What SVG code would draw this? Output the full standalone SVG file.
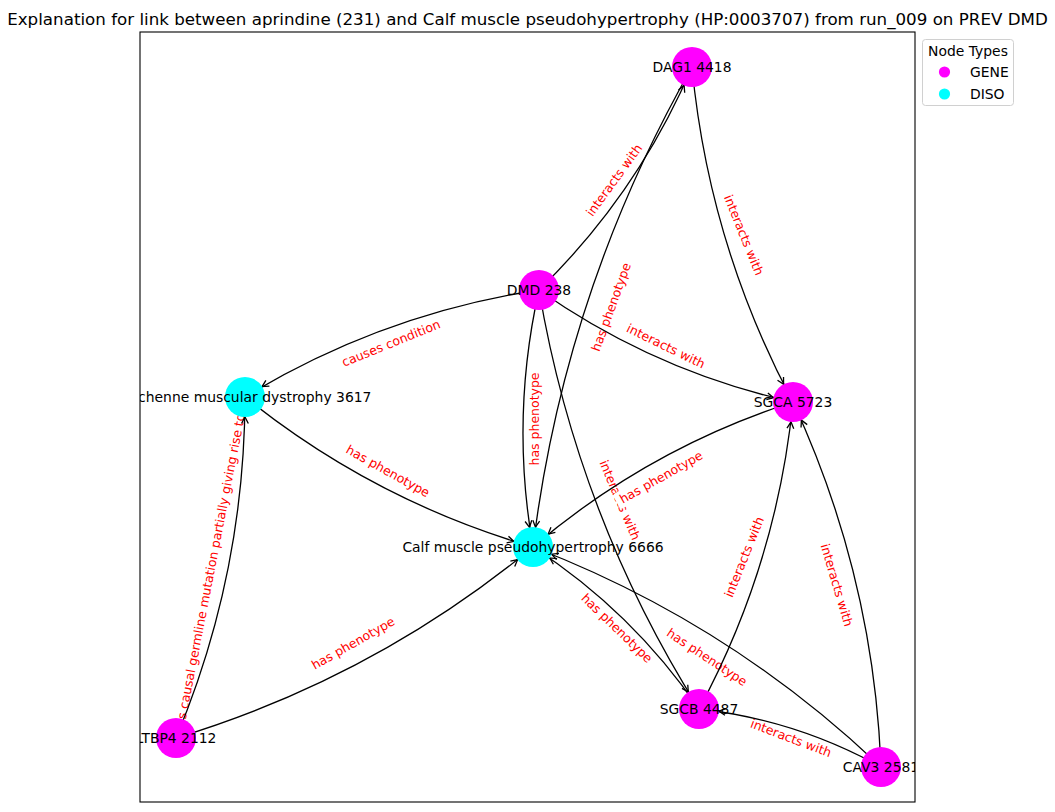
<svg xmlns="http://www.w3.org/2000/svg" width="1055" height="812" viewBox="0 0 1055 812">
  <style>
    text { font-family: "DejaVu Sans", "Liberation Sans", sans-serif; }
    .title { font-size: 16.7px; fill: #000; }
    .edge { fill: none; stroke: #000; stroke-width: 1.3; marker-end: url(#arrow); }
    .elabel { font-size: 12.5px; fill: #ff0000; text-anchor: middle; dominant-baseline: central; }
    .nlabel { font-size: 13.9px; fill: #000; text-anchor: middle; dominant-baseline: central; }
    .gene { fill: #ff00ff; }
    .diso { fill: #00ffff; }
    .legend-text { font-size: 13.9px; fill: #000; }
  </style>
  <defs>
    <clipPath id="axes-clip">
      <rect x="140" y="32" width="775" height="770"/>
    </clipPath>
    <!-- open "->" arrowhead; tip sits on the node rim (radius 20) -->
    <marker id="arrow" markerUnits="userSpaceOnUse" orient="auto" refX="20" refY="0" markerWidth="10" markerHeight="10" overflow="visible">
      <path d="M -6.5,-3.4 L 0,0 L -6.5,3.4" fill="none" stroke="#000" stroke-width="1.3" stroke-linejoin="miter"/>
    </marker>
  </defs>

  <rect x="0" y="0" width="1055" height="812" fill="#fff"/>

  <text class="title" x="527.5" y="25" text-anchor="middle">Explanation for link between aprindine (231) and Calf muscle pseudohypertrophy (HP:0003707) from run_009 on PREV DMD</text>

  <g clip-path="url(#axes-clip)">
    <!-- edge labels -->
    <g id="edge-labels">
      <text class="elabel" transform="translate(614,180) rotate(-54)">interacts with</text>
      <text class="elabel" transform="translate(744,235) rotate(68)">interacts with</text>
      <text class="elabel" transform="translate(611,307) rotate(-70)">has phenotype</text>
      <text class="elabel" transform="translate(391,343) rotate(-22)">causes condition</text>
      <text class="elabel" transform="translate(666,346) rotate(26)">interacts with</text>
      <text class="elabel" transform="translate(534,419) rotate(-90)">has phenotype</text>
      <text class="elabel" transform="translate(620,500) rotate(67)">interacts with</text>
      <g transform="translate(661,477) rotate(-29.5)">
        <rect x="-51" y="-8.5" width="102" height="17" rx="3" fill="#fff"/>
        <text class="elabel" x="0" y="0">has phenotype</text>
      </g>
      <text class="elabel" transform="translate(388,471) rotate(29)">has phenotype</text>
      <text class="elabel" transform="translate(209.5,574) rotate(-79)">has causal germline mutation partially giving rise to</text>
      <text class="elabel" transform="translate(353,643) rotate(-29.5)">has phenotype</text>
      <text class="elabel" transform="translate(617,628) rotate(44)">has phenotype</text>
      <text class="elabel" transform="translate(707,657) rotate(33.5)">has phenotype</text>
      <text class="elabel" transform="translate(744,557) rotate(-68)">interacts with</text>
      <text class="elabel" transform="translate(837,585) rotate(73.5)">interacts with</text>
      <text class="elabel" transform="translate(791,738) rotate(20.7)">interacts with</text>
    </g>

    <!-- connectors: quadratic arcs, centre to centre -->
    <g id="connectors">
      <path class="edge" d="M539,290 Q637.8,193.8 692,67"/>
      <path class="edge" d="M692,67 Q709,244.6 793,402"/>
      <path class="edge" d="M692,67 Q564.5,291.1 533,547"/>
      <path class="edge" d="M539,290 Q381.3,314.1 245,397"/>
      <path class="edge" d="M539,290 Q654.8,371.4 793,402"/>
      <path class="edge" d="M539,290 Q510.3,417.9 533,547"/>
      <path class="edge" d="M539,290 Q577.1,515.5 699,709"/>
      <path class="edge" d="M793,402 Q648.5,448.5 533,547"/>
      <path class="edge" d="M245,397 Q374,500.8 533,547"/>
      <path class="edge" d="M176,738 Q244.6,574.4 245,397"/>
      <path class="edge" d="M176,738 Q373.6,678.2 533,547"/>
      <path class="edge" d="M699,709 Q632.2,611.4 533,547"/>
      <path class="edge" d="M881,767 Q729,622.2 533,547"/>
      <path class="edge" d="M699,709 Q776.7,564.9 793,402"/>
      <path class="edge" d="M881,767 Q873.5,575.7 793,402"/>
      <path class="edge" d="M881,767 Q795.8,719.8 699,709"/>
    </g>

    <!-- nodes -->
    <g id="node-dag1"><circle class="gene" cx="692" cy="67" r="20"/><text class="nlabel" x="692" y="67">DAG1 4418</text></g>
    <g id="node-dmd"><circle class="gene" cx="539" cy="290" r="20"/><text class="nlabel" x="539" y="290">DMD 238</text></g>
    <g id="node-duchenne"><circle class="diso" cx="245" cy="397" r="20"/><text class="nlabel" x="245" y="397">Duchenne muscular dystrophy 3617</text></g>
    <g id="node-sgca"><circle class="gene" cx="793" cy="402" r="20"/><text class="nlabel" x="793" y="402">SGCA 5723</text></g>
    <g id="node-calf"><circle class="diso" cx="533" cy="547" r="20"/><text class="nlabel" x="533" y="547">Calf muscle pseudohypertrophy 6666</text></g>
    <g id="node-ltbp4"><circle class="gene" cx="176" cy="738" r="20"/><text class="nlabel" x="176" y="738">LTBP4 2112</text></g>
    <g id="node-sgcb"><circle class="gene" cx="699" cy="709" r="20"/><text class="nlabel" x="699" y="709">SGCB 4487</text></g>
    <g id="node-cav3"><circle class="gene" cx="881" cy="767" r="20"/><text class="nlabel" x="881" y="767">CAV3 2581</text></g>
  </g>

  <!-- axes frame -->
  <rect x="140" y="32" width="775" height="770" fill="none" stroke="#000" stroke-width="1.1"/>

  <!-- legend -->
  <g id="legend">
    <rect x="922.5" y="39.5" width="91" height="66" rx="3" fill="#fff" fill-opacity="0.8" stroke="#d0d0d0" stroke-width="1"/>
    <text class="legend-text" x="968" y="55.5" text-anchor="middle">Node Types</text>
    <circle class="gene" cx="944.5" cy="72" r="5.6"/>
    <text class="legend-text" x="970" y="77">GENE</text>
    <circle class="diso" cx="944.5" cy="94" r="5.6"/>
    <text class="legend-text" x="970" y="99">DISO</text>
  </g>
</svg>
